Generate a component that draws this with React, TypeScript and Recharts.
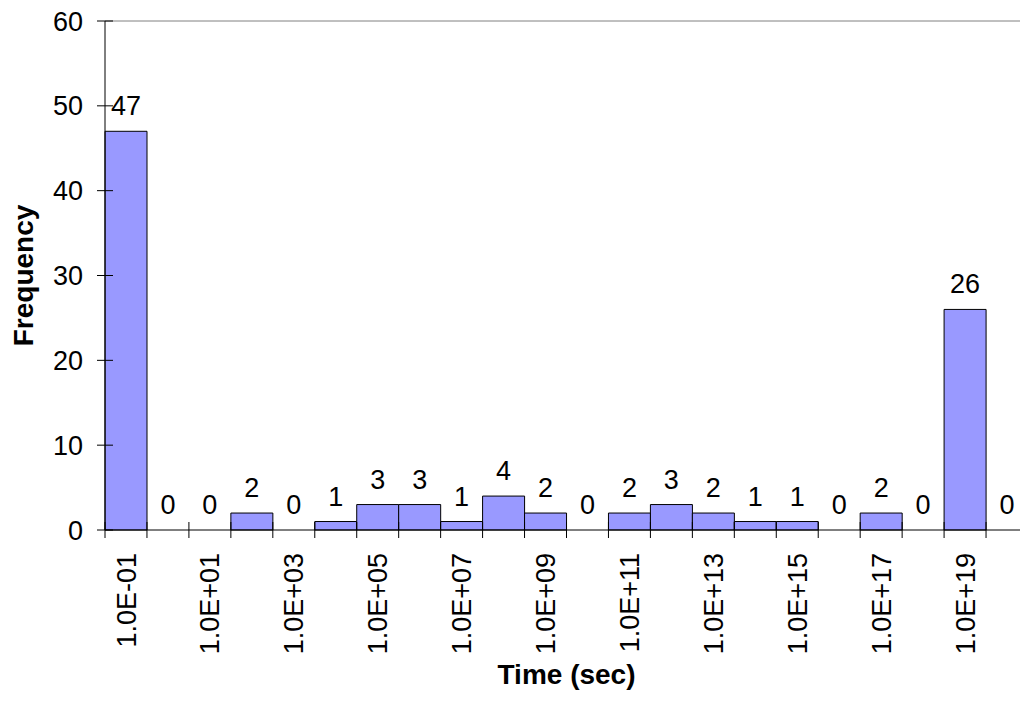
import { ComposedChart, Bar, Line, XAxis, YAxis, LabelList, Label, ReferenceLine } from 'recharts'

const binLabels = [
  '1.0E-01', '1.0E+00', '1.0E+01', '1.0E+02', '1.0E+03', '1.0E+04', '1.0E+05', '1.0E+06',
  '1.0E+07', '1.0E+08', '1.0E+09', '1.0E+10', '1.0E+11', '1.0E+12', '1.0E+13', '1.0E+14',
  '1.0E+15', '1.0E+16', '1.0E+17', '1.0E+18', '1.0E+19', '1.0E+20',
]
const frequency = [47, 0, 0, 2, 0, 1, 3, 3, 1, 4, 2, 0, 2, 3, 2, 1, 1, 0, 2, 0, 26, 0]
const yTicks = [0, 10, 20, 30, 40, 50, 60]

const data = binLabels.map((bin, i) => ({ bin, freq: frequency[i] }))

const FONT = '"Liberation Sans", Arial, sans-serif'
const W = 1028
const H = 702
const TICK = 8
const X_MARGIN = 15
const Y_MARGIN = 14

// ticks cross the axis line, labels only on every other bin
const XTick = (props: any) => {
  const { x, y, payload, index } = props
  const half = payload.offset ?? 21
  const axisY = y - TICK - X_MARGIN
  const last = index === binLabels.length - 1
  return (
    <g>
      <line x1={x - half} x2={x - half} y1={axisY - TICK} y2={axisY + TICK} stroke="#000" />
      {last && <line x1={x + half} x2={x + half} y1={axisY - TICK} y2={axisY + TICK} stroke="#000" />}
      {index % 2 === 0 && (
        <text x={x} y={y} dy="0.355em" textAnchor="end" transform={`rotate(-90, ${x}, ${y})`}
          fontSize={27} fontFamily={FONT} fill="#000">
          {payload.value}
        </text>
      )}
    </g>
  )
}

const YTick = (props: any) => {
  const { x, y, payload } = props
  const axisX = x + TICK + Y_MARGIN
  return (
    <g>
      <line x1={axisX - TICK} x2={axisX + TICK} y1={y} y2={y} stroke="#000" />
      <text x={x} y={y} dy="0.355em" textAnchor="end" fontSize={27} fontFamily={FONT} fill="#000">
        {payload.value}
      </text>
    </g>
  )
}

const YTitle = (props: any) => {
  const { x, y, height } = props.viewBox
  const cx = x + 33
  const cy = y + height / 2
  return (
    <text x={cx} y={cy} textAnchor="middle" transform={`rotate(-90, ${cx}, ${cy})`}
      fontSize={28} fontWeight="bold" fontFamily={FONT} fill="#000">
      Frequency
    </text>
  )
}

const XTitle = (props: any) => {
  const { x, y, width } = props.viewBox
  return (
    <text x={x + width / 2} y={y + 154} textAnchor="middle"
      fontSize={28} fontWeight="bold" fontFamily={FONT} fill="#000">
      Time (sec)
    </text>
  )
}

export default function App() {
  return (
    <div style={{ margin: -8, width: W, height: H, overflow: 'hidden' }}>
      <ComposedChart
        width={W}
        height={H}
        data={data}
        margin={{ top: 21, right: 0, bottom: 0, left: 0 }}
        barCategoryGap={0}
        barGap={0}
      >
        <ReferenceLine y={60} stroke="#808080" />
        <XAxis
          dataKey="bin"
          type="category"
          interval={0}
          height={172}
          tickSize={TICK}
          tickMargin={X_MARGIN}
          tickLine={false}
          axisLine={{ stroke: '#000' }}
          tick={<XTick />}
        >
          <Label content={<XTitle />} />
        </XAxis>
        <YAxis
          type="number"
          domain={[0, 60]}
          ticks={yTicks}
          width={105}
          tickSize={TICK}
          tickMargin={Y_MARGIN}
          tickLine={false}
          axisLine={{ stroke: '#000' }}
          tick={<YTick />}
        >
          <Label content={<YTitle />} />
        </YAxis>
        <Bar dataKey="freq" fill="#9999FF" stroke="#000" strokeWidth={1} isAnimationActive={false} />
        {/* invisible series so zero-height bins still get their value label */}
        <Line dataKey="freq" stroke="none" dot={false} activeDot={false} legendType="none" isAnimationActive={false}>
          <LabelList dataKey="freq" position="top" offset={16} fill="#000" fontSize={27} fontFamily={FONT} />
        </Line>
      </ComposedChart>
    </div>
  )
}
